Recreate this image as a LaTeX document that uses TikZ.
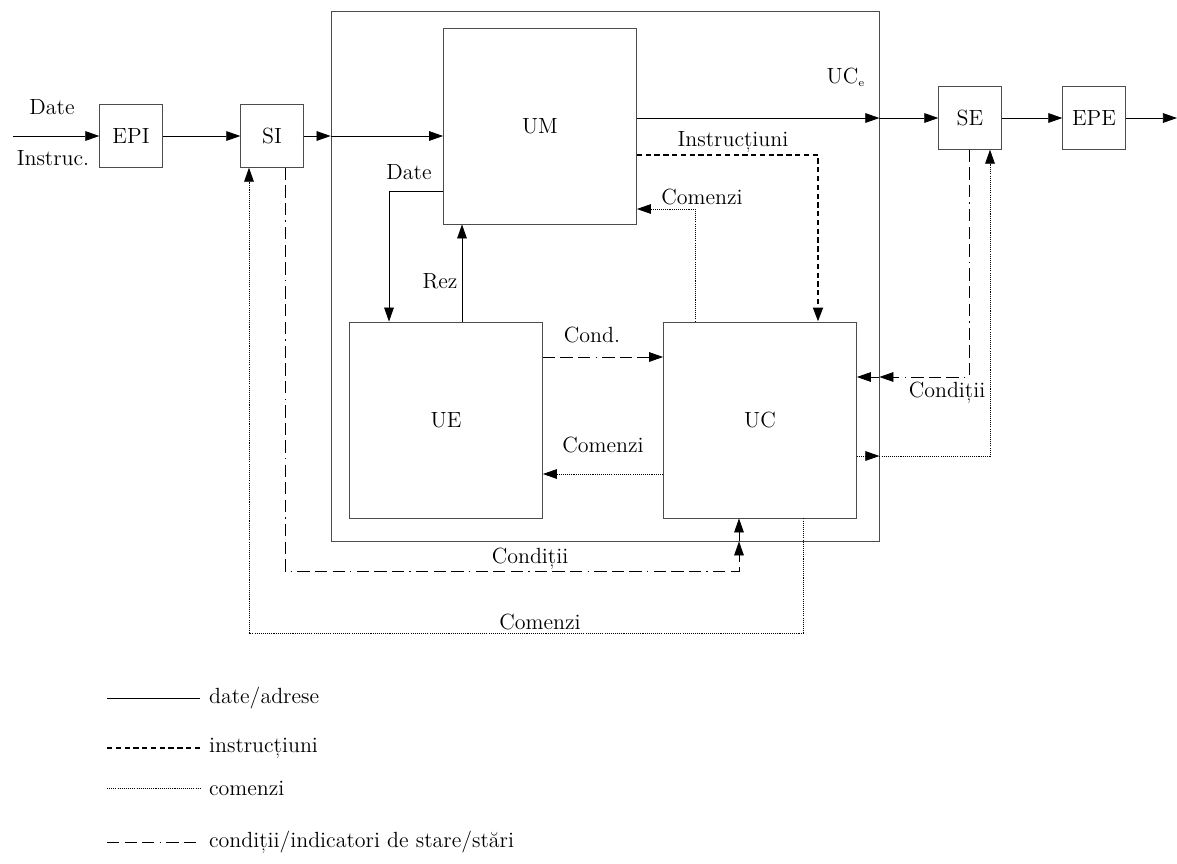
\documentclass[tikz,border=0pt]{standalone}
\usepackage{fontspec}
\usetikzlibrary{arrows.meta}

\begin{document}
\begin{tikzpicture}[x=0.02cm,y=-0.02cm,
		font=\fontsize{12.5}{15}\selectfont,
		>={Triangle[length=8pt,width=5.5pt]},
		blok/.style={draw=black!70,line width=0.5pt,inner sep=0pt,minimum width=1.25cm,minimum height=1.25cm},
		mare/.style={blok,minimum width=3.86cm,minimum height=3.92cm},
		date/.style={line width=0.45pt},
		instr/.style={line width=1.5pt,dash pattern=on 3pt off 2pt},
		com/.style={line width=0.45pt,dash pattern=on 0.6pt off 0.6pt},
		cond/.style={line width=0.45pt,dash pattern=on 7pt off 3pt on 7pt off 3pt on 7pt off 3pt on 0.8pt off 3pt},
		eti/.style={inner sep=1pt}]
		\useasboundingbox (0,0) rectangle (1177,863);
		
		\node[blok] (EPI) at (131,136) {EPI};
		\node[blok] (SI) at (272,136) {SI};
		\node[blok] (SE) at (970,118) {SE};
		\node[blok] (EPE) at (1094,118) {EPE};
		\node[draw=black!70,line width=0.5pt,minimum width=10.96cm,minimum height=10.6cm] (UCe) at (605,276) {};
		\node (lUCe) at (846,77) {UC$_{\scriptscriptstyle\mathrm{e}}$};
		\node[mare] (UM) at (540,126) {UM};
		\node[mare] (UE) at (446,420) {UE};
		\node[mare] (UC) at (760,420) {UC};
		
		\coordinate (in) at (13,136);
		\coordinate (out) at (1177,118);
		\coordinate (dt) at (389,191);
		\coordinate (rz) at (462,0);
		\coordinate (ins) at (818,155);
		\coordinate (cm1) at (695,209);
		\coordinate (cd) at (0,357);
		\coordinate (cm2) at (0,474);
		\coordinate (cr) at (969,377);
		\coordinate (cm3) at (990,456);
		\coordinate (cb) at (285,571);
		\coordinate (cbr) at (739,0);
		\coordinate (kb) at (249,633);
		\coordinate (kbr) at (803,0);
		
		\draw[date,->] (in) -- (EPI);
		\draw[date,->] (EPI) -- (SI);
		\draw[date,->] (SI) -- (SI -| UCe.west);
		\draw[date,->] (SI -| UCe.west) -- (SI -| UM.west);
		\draw[date,->] (UM.east |- SE) -- (UCe.east |- SE);
		\draw[date,->] (UCe.east |- SE) -- (SE);
		\draw[date,->] (SE) -- (EPE);
		\draw[date,->] (EPE) -- (out);
		\draw[date,->] (dt -| UM.west) -- (dt) -- (dt |- UE.north);
		\draw[date,->] (rz |- UE.north) -- (rz |- UM.south);
		\draw[instr,->] (ins -| UM.east) -- (ins) -- (ins |- UC.north);
		\draw[com,->] (cm1 |- UC.north) -- (cm1) -- (cm1 -| UM.east);
		\draw[cond,->] (cd -| UE.east) -- (cd -| UC.west);
		\draw[com,->] (cm2 -| UC.west) -- (cm2 -| UE.east);
		\draw[cond,->] (cr |- SE.south) -- (cr) -- (cr -| UCe.east);
		\draw[cond,->] (cr -| UCe.east) -- (cr -| UC.east);
		\draw[com,->] (cm3 -| UC.east) -- (cm3 -| UCe.east);
		\draw[com,->] (cm3 -| UCe.east) -- (cm3) -- (cm3 |- SE.south);
		\draw[cond,->] (cb |- SI.south) -- (cb) -- (cb -| cbr) -- (cbr |- UCe.south);
		\draw[cond,->] (cbr |- UCe.south) -- (cbr |- UC.south);
		\draw[com,->] (kbr |- UC.south) -- (kbr |- kb) -- (kb) -- (kb |- SI.south);
		
		\node[eti] (lDate) at (52,107) {Date};
		\node[eti] (lInstruc) at (53,158) {Instruc.};
		\node[eti] (lDate2) at (409,172) {Date};
		\node[eti] (lRez) at (440,281) {Rez};
		\node[eti] (lInstr) at (733,142) {Instrucțiuni};
		\node[eti] (lCom1) at (702,197) {Comenzi};
		\node[eti] (lCond) at (592,335) {Cond.};
		\node[eti] (lCom2) at (603,445) {Comenzi};
		\node[eti] (lCond2) at (947,393) {Condiții};
		\node[eti] (lCond3) at (530,559) {Condiții};
		\node[eti] (lCom3) at (540,622) {Comenzi};
		
		\coordinate (g1a) at (107,698);
		\coordinate (g1b) at (200,698);
		\coordinate (g2a) at (107,748);
		\coordinate (g2b) at (200,748);
		\coordinate (g3a) at (107,788);
		\coordinate (g3b) at (200,788);
		\coordinate (g4a) at (107,842);
		\coordinate (g4b) at (200,842);
		\draw[date] (g1a) -- (g1b);
		\draw[instr] (g2a) -- (g2b);
		\draw[com] (g3a) -- (g3b);
		\draw[cond] (g4a) -- (g4b);
		\node[eti,anchor=west] (t1) at (207,698) {date/adrese};
		\node[eti,anchor=west] (t2) at (207,748) {instrucțiuni};
		\node[eti,anchor=west] (t3) at (207,788) {comenzi};
		\node[eti,anchor=west] (t4) at (207,842) {condiții/indicatori de stare/stări};
	\end{tikzpicture}
\end{document}
